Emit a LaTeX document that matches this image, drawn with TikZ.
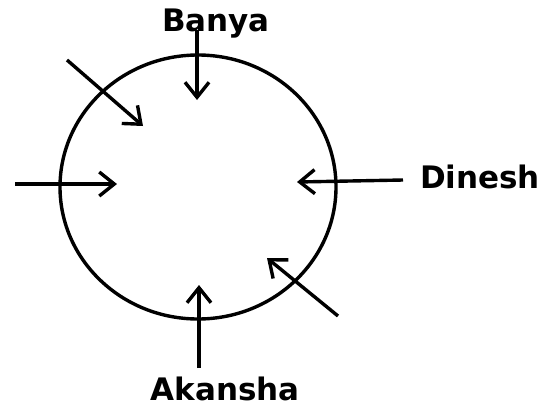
\documentclass[tikz,border=0pt]{standalone}
\usepackage{fontspec}
\setmainfont{DejaVu Sans}
\usetikzlibrary{positioning,arrows.meta}
\tikzset{
  seatarrow/.style={-{Straight Barb[length=15pt,width=24pt]}, line width=3.4pt},
  namelabel/.style={font=\fontsize{31}{32}\selectfont\bfseries, inner sep=0pt, anchor=base}
}
\begin{document}
\begin{tikzpicture}[x=1pt,y=-1pt]
\useasboundingbox (0,0) rectangle (543,407);
% the round table, a touch wider than tall
\draw[line width=3.4pt] (198,187) ellipse [x radius=138pt, y radius=132pt];
% names round the table
\node[namelabel] (banya)   at (216,31)  {Banya};
\node[namelabel] (dinesh)  at (480,188) {Dinesh};
\node[namelabel] (akansha) at (225,400) {Akansha};
% arrow ends: tail first, head second
\coordinate (ntail)  at (197,30);  \coordinate (nhead)  at (197,100);
\coordinate (nwtail) at (67,60);   \coordinate (nwhead) at (143,126);
\coordinate (wtail)  at (15,184);  \coordinate (whead)  at (117,184);
\coordinate (etail)  at (403,180); \coordinate (ehead)  at (297,182);
\coordinate (setail) at (338,316); \coordinate (sehead) at (267,258);
\coordinate (stail)  at (199,368); \coordinate (shead)  at (199,285);
\draw[seatarrow] (ntail)  -- (nhead);
\draw[seatarrow] (nwtail) -- (nwhead);
\draw[seatarrow] (wtail)  -- (whead);
\draw[seatarrow] (etail)  -- (ehead);
\draw[seatarrow] (setail) -- (sehead);
\draw[seatarrow] (stail)  -- (shead);
\end{tikzpicture}
\end{document}
